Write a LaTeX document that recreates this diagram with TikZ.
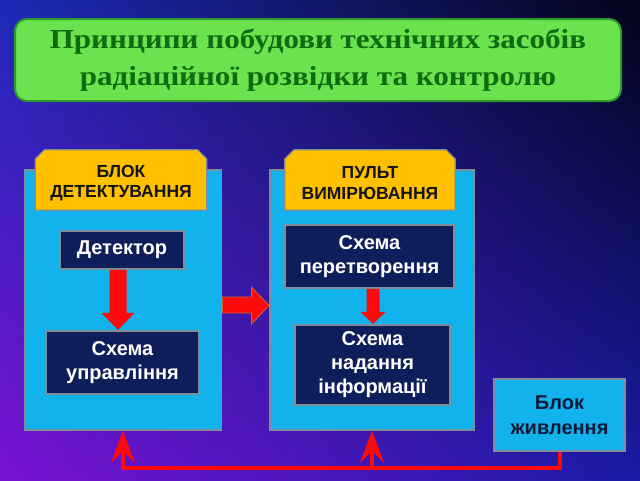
\documentclass[tikz,border=0pt]{standalone}
\usepackage{fontspec}
\setmainfont{Liberation Sans}
\newfontfamily\titlefont[FakeStretch=1.13]{Liberation Serif}
\usetikzlibrary{arrows.meta,calc,fadings}
\definecolor{bgTL}{HTML}{1E2AB8}
\definecolor{bgTM}{HTML}{1A22B0}
\definecolor{bgTR}{HTML}{04041A}
\definecolor{bgBL}{HTML}{7A12D2}
\definecolor{bgBM}{HTML}{2820C4}
\definecolor{bgBR}{HTML}{1A1CA8}
\definecolor{panelblue}{HTML}{12B2EC}
\definecolor{panelline}{HTML}{7F8C9A}
\definecolor{taborange}{HTML}{FFC000}
\definecolor{darknavy}{HTML}{0E1E5A}
\definecolor{titlegreen}{HTML}{6AE34E}
\definecolor{titletext}{HTML}{0F6A10}
\definecolor{titleline}{HTML}{2E9A2E}
\definecolor{arrowred}{HTML}{FF0A0A}
\definecolor{arrowedge}{HTML}{D2643C}
\definecolor{darktext}{HTML}{141414}
\definecolor{pwtext}{HTML}{0A1A3A}
\tikzset{
  panel/.style={draw=panelline, line width=1.8pt, fill=panelblue, inner sep=0pt},
  tabarea/.style={inner sep=0pt},
  tabshape/.style={draw=panelline, line width=1.2pt, fill=taborange, line join=miter},
  tabtext/.style={inner sep=0pt, align=center, text=darktext,
    font=\fontsize{17.5}{20.5}\selectfont\bfseries},
  darkbox/.style={draw=panelline, line width=1.8pt, fill=darknavy, inner sep=0pt,
    align=center, text=white, font=\fontsize{20}{24}\selectfont\bfseries},
  lightbox/.style={draw=panelline, line width=1.8pt, fill=panelblue, inner sep=0pt,
    align=center, text=pwtext, font=\fontsize{20}{25}\selectfont\bfseries},
  titlebox/.style={draw=titleline, line width=2pt, fill=titlegreen, rounded corners=12pt,
    inner sep=0pt, align=center, text=titletext,
    font=\titlefont\fontsize{27.5}{37}\selectfont\bfseries},
  fatarrow/.style={fill=arrowred, draw=arrowedge, line width=0.8pt, line join=miter},
  bus/.style={draw=arrowred, line width=4pt},
  bustip/.style={-{Stealth[length=32pt,width=24pt,inset=12pt]}}
}
\begin{document}
\begin{tikzpicture}[x=1pt,y=-1pt]
\useasboundingbox (0,0) rectangle (640,480);
% background
\shade[left color=bgTL, middle color=bgTM, right color=bgTR] (0,0) rectangle (640,480);
\shade[left color=bgBL, middle color=bgBM, right color=bgBR, path fading=north] (0,0) rectangle (640,480);

% title
\node[titlebox, minimum width=606pt, minimum height=82pt] (title) at (318,60)
  {Принципи побудови технічних засобів\\радіаційної розвідки та контролю};

% panels
\node[panel, minimum width=197pt, minimum height=260pt] (lp) at (123,300) {};
\node[panel, minimum width=204pt, minimum height=260pt] (rp) at (372,300) {};

% tabs
\node[tabarea, minimum width=171pt, minimum height=60pt] (lt) at (121,180) {};
\draw[tabshape] (lt.south west) -- ($(lt.north west)+(0,9)$) -- ($(lt.north west)+(9,0)$)
  -- ($(lt.north east)+(-9,0)$) -- ($(lt.north east)+(0,9)$) -- (lt.south east) -- cycle;
\node[tabtext] (ltt) at ($(lt.center)+(0,3)$) {БЛОК\\ДЕТЕКТУВАННЯ};
\node[tabarea, minimum width=170pt, minimum height=60pt] (rt) at (370,180) {};
\draw[tabshape] (rt.south west) -- ($(rt.north west)+(0,9)$) -- ($(rt.north west)+(9,0)$)
  -- ($(rt.north east)+(-9,0)$) -- ($(rt.north east)+(0,9)$) -- (rt.south east) -- cycle;
\node[tabtext] (rtt) at ($(rt.center)+(0,3)$) {ПУЛЬТ\\ВИМІРЮВАННЯ};

% inner boxes
\node[darkbox, minimum width=124pt, minimum height=38pt] (det) at (122,250) {Детектор};
\node[darkbox, minimum width=153pt, minimum height=63pt] (su) at (122.5,362.5) {Схема\\управління};
\node[darkbox, minimum width=169pt, minimum height=63pt] (sp) at (369.5,256.5) {Схема\\перетворення};
\node[darkbox, minimum width=155pt, minimum height=80pt] (sn) at (372.5,365) {Схема\\надання\\інформації};

% power block
\node[lightbox, minimum width=131pt, minimum height=72pt] (pw) at (559.5,415) {Блок\\живлення};

% fat arrows
\fill[arrowred] ($(det.south)+(-12.5,0)$) -- ++(17,0) -- ++(0,43) -- ++(8,0)
  -- ++(-16.5,17) -- ++(-16.5,-17) -- ++(8,0) -- cycle;
\fill[arrowred] ($(sp.south)+(-3,0)$) -- ++(13,0) -- ++(0,23) -- ++(6,0)
  -- ++(-12.5,12) -- ++(-12.5,-12) -- ++(6,0) -- cycle;
\draw[fatarrow] ($(lp.east)+(0,-3)$) -- ($(lp.east)+(29,-3)$) -- ($(lp.east)+(29,-13)$)
  -- ($(rp.west)+(0,5.5)$) -- ($(lp.east)+(29,24)$) -- ($(lp.east)+(29,13)$)
  -- ($(lp.east)+(0,13)$) -- cycle;

% power bus
\coordinate (busR) at ($(pw.south)+(0,16)$);
\draw[bus, bustip] (pw.south) -- (busR) -| (lp.south);
\draw[bus, bustip] (rp.south |- busR) -- (rp.south);
\end{tikzpicture}
\end{document}
